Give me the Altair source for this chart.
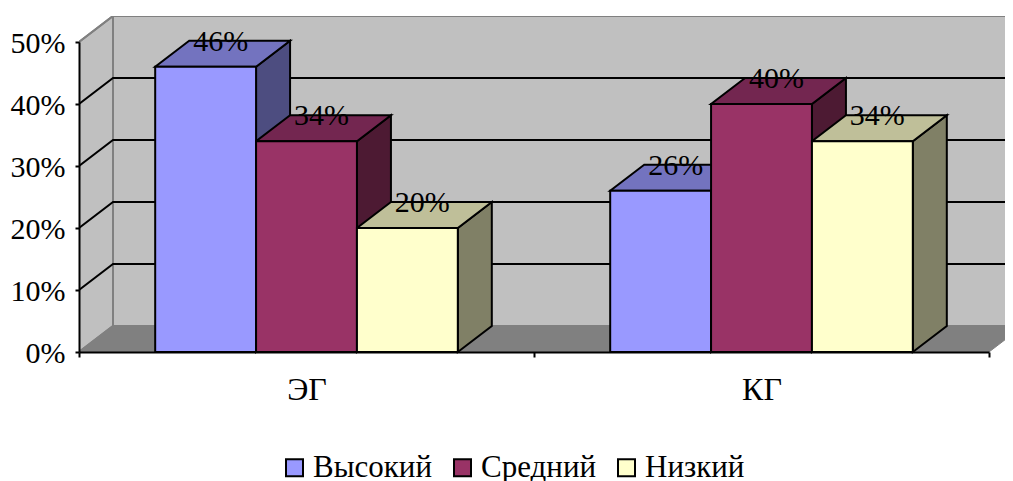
import altair as alt
import pandas as pd

categories = ["ЭГ", "КГ"]
levels = ["Высокий", "Средний", "Низкий"]
values = {"ЭГ": [46, 34, 20], "КГ": [26, 40, 34]}
front_colors = ["#9999FF", "#993366", "#FFFFCC"]
side_colors = ["#4D4D80", "#4D1A33", "#808066"]
top_colors = ["#7373BF", "#732650", "#BFBF99"]
y_ticks = [0, 10, 20, 30, 40, 50]

FONT = "Liberation Serif"
W, H = 926, 336
X_RANGE = [0, 910]
Y_RANGE = [336, 26]
DX = 34 / 910 * 2
DY = 26 / 310 * 50
BAR = 0.2217

xs = alt.Scale(domain=[0, 2], range=X_RANGE, nice=False, zero=False)
ys = alt.Scale(domain=[0, 50], range=Y_RANGE, nice=False, zero=False)


def X(f="x", **k):
    return alt.X(f + ":Q", scale=xs, axis=None, **k)


def Y(f="y", **k):
    return alt.Y(f + ":Q", scale=ys, axis=None, **k)


front, side, top, labels = [], [], [], []
for c, cat in enumerate(categories):
    for i, lev in enumerate(levels):
        v = values[cat][i]
        x0 = c + 0.5 - 1.5 * BAR + i * BAR
        x1 = x0 + BAR
        g = f"{cat}-{lev}"
        front.append(dict(x=x0, x2=x1, y=0, y2=v, level=lev))
        side += [
            dict(g=g, x=x1, y=0, y2=v, c=side_colors[i]),
            dict(g=g, x=x1 + DX, y=DY, y2=v + DY, c=side_colors[i]),
        ]
        top += [
            dict(g=g, y=v, x=x0, x2=x1, c=top_colors[i]),
            dict(g=g, y=v + DY, x=x0 + DX, x2=x1 + DX, c=top_colors[i]),
        ]
        labels.append(dict(x=(x0 + x1) / 2, y=v, t=f"{v}%"))

# walls
back = alt.Chart(pd.DataFrame([dict(x=DX, x2=2 + DX, y=DY, y2=50 + DY)])).mark_rect(
    fill="#C0C0C0", stroke="#808080", strokeWidth=2, clip=True
).encode(x=X(), x2="x2:Q", y=Y(), y2="y2:Q")

left_wall = alt.Chart(pd.DataFrame([
    dict(x=0, y=0, y2=50), dict(x=DX, y=DY, y2=50 + DY)
])).mark_area(fill="#C0C0C0", stroke="#808080", strokeWidth=2, clip=True).encode(
    x=X(), y=Y(), y2="y2:Q"
)

floor = alt.Chart(pd.DataFrame([
    dict(y=0, x=0, x2=2), dict(y=DY, x=DX, x2=2 + DX)
])).mark_area(orient="horizontal", fill="#808080", stroke="#808080", strokeWidth=1, clip=True).encode(
    y=Y(), x=X(), x2="x2:Q"
)

grid_rows = []
for v in y_ticks:
    col = "#000000" if 0 < v < 50 else "#808080"
    for k, (px, py) in enumerate([(0, v), (DX, v + DY), (2 + DX, v + DY)]):
        grid_rows.append(dict(v=v, o=k, x=px, y=py, c=col))
grid = alt.Chart(pd.DataFrame(grid_rows)).mark_line(strokeWidth=2, clip=True).encode(
    x=X(), y=Y(), detail="v:N", order="o:Q", color=alt.Color("c:N", scale=None)
)

sides = alt.Chart(pd.DataFrame(side)).mark_area(stroke="black", strokeWidth=2).encode(
    x=X(), y=Y(), y2="y2:Q", detail="g:N", fill=alt.Fill("c:N", scale=None)
)
tops = alt.Chart(pd.DataFrame(top)).mark_area(orient="horizontal", stroke="black", strokeWidth=2).encode(
    y=Y(), x=X(), x2="x2:Q", detail="g:N", fill=alt.Fill("c:N", scale=None)
)
fronts = alt.Chart(pd.DataFrame(front)).mark_rect(stroke="black", strokeWidth=2).encode(
    x=X(), x2="x2:Q", y=Y(), y2="y2:Q",
    color=alt.Color(
        "level:N",
        scale=alt.Scale(domain=levels, range=front_colors),
        legend=alt.Legend(
            title=None, orient="none", legendX=200, legendY=436, direction="horizontal",
            columns=3, columnPadding=14, symbolType="square", symbolSize=289,
            symbolStrokeColor="black", symbolStrokeWidth=2, symbolOpacity=1,
            labelFont=FONT, labelFontSize=31, labelColor="black", labelOffset=3, labelLimit=300,
            gridAlign="each",
        ),
    ),
)
texts = alt.Chart(pd.DataFrame(labels)).mark_text(
    font=FONT, fontSize=30, color="black", dx=15, dy=-25, baseline="middle", align="center"
).encode(x=X(), y=Y(), text="t:N")

y_axis = alt.Chart(pd.DataFrame({"v": y_ticks})).mark_point(opacity=0).encode(
    x=alt.value(0),
    y=alt.Y("v:Q", scale=ys, axis=alt.Axis(
        title=None, values=y_ticks, labelExpr="datum.value + '%'", labelFont=FONT, labelFontSize=30,
        labelColor="black", tickColor="black", domainColor="black", tickWidth=2, domainWidth=2,
        tickSize=4, labelPadding=10, labelOffset=1, grid=False, zindex=2,
    )),
)
x_axis = alt.Chart(pd.DataFrame({"cat": categories})).mark_rect(opacity=0).encode(
    x=alt.X("cat:N", sort=categories, scale=alt.Scale(
        type="band", domain=categories, range=X_RANGE, paddingInner=0, paddingOuter=0
    ), axis=alt.Axis(
        title=None, labelAngle=0, labelFont=FONT, labelFontSize=32, labelColor="black",
        tickColor="black", domainColor="black", tickWidth=2, domainWidth=2, tickSize=5,
        tickBand="extent", labelPadding=17, grid=False, zindex=2,
    )),
    y=alt.value(0), y2=alt.value(1),
)

chart = alt.layer(
    back, left_wall, floor, grid, sides, tops, fronts, texts, y_axis, x_axis
).resolve_scale(x="independent").resolve_axis(x="independent", y="independent").properties(
    width=W, height=H,
    padding={"left": 71, "right": 0, "top": 8, "bottom": 129},
    autosize=alt.AutoSizeParams(type="none"),
    background="white",
).configure_view(stroke=None)

chart.save("out.html", embed_options={"renderer": "svg", "actions": False})
